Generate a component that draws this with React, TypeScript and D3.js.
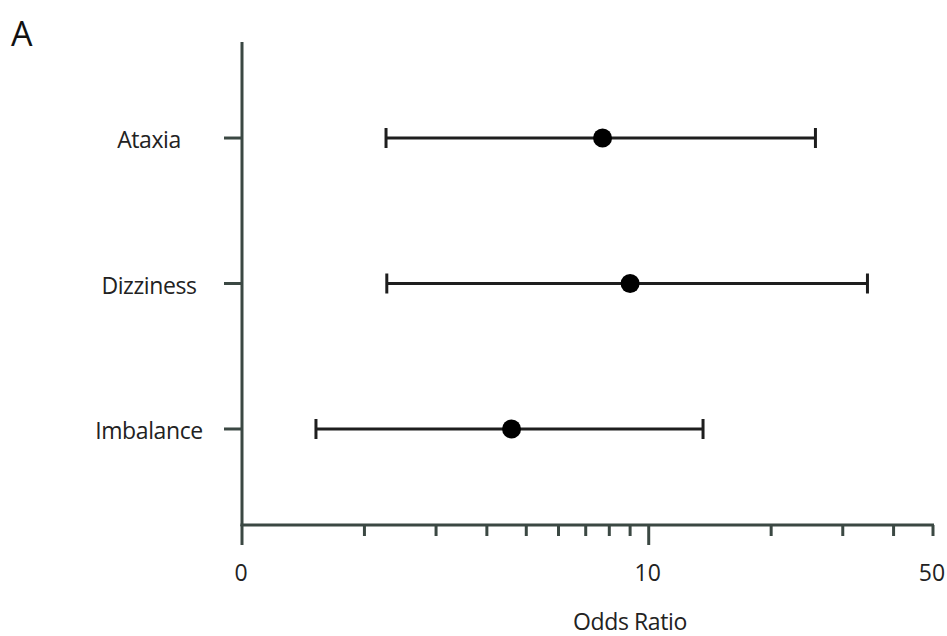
import { useEffect, useRef } from 'react';
import * as d3 from 'd3';

// odds ratios with 95% CI
const symptoms = ['Ataxia', 'Dizziness', 'Imbalance'];
const oddsRatio = [7.7, 9.0, 4.6];
const ciLow = [2.26, 2.27, 1.52];
const ciHigh = [25.7, 34.5, 13.6];

const tickValues = [1, 2, 3, 4, 5, 6, 7, 8, 9, 10, 20, 30, 40, 50];
const majorTicks = [1, 10];
const tickLabels = [
  { value: 1, label: '0' },
  { value: 10, label: '10' },
  { value: 50, label: '50' },
];

const W = 947;
const H = 636;
const FONT = '"Open Sans", "Noto Sans", sans-serif';
const AXIS = '#3b4843';
const INK = '#1e1e1e';
const TEXT = '#222';

export default function App() {
  const svgRef = useRef<SVGSVGElement | null>(null);

  useEffect(() => {
    document.body.style.margin = '0';
    if (!svgRef.current) return;
    const svg = d3.select(svgRef.current);
    svg.selectAll('*').remove();

    const left = 242;
    const right = 933;
    const top = 42;
    const bottom = 525;

    const x = d3.scaleLog().domain([1, 50]).range([left, right]);
    const y = d3.scalePoint<string>().domain(symptoms).range([top, bottom]).padding(0.66);

    const rows = symptoms.map((s, i) => ({ s, or: oddsRatio[i], lo: ciLow[i], hi: ciHigh[i] }));

    // panel letter
    svg.append('text')
      .attr('x', 11).attr('y', 46)
      .attr('font-family', FONT).attr('font-size', 34)
      .attr('fill', '#111')
      .text('A');

    // y axis
    svg.append('line')
      .attr('x1', left).attr('x2', left)
      .attr('y1', top).attr('y2', bottom + 1)
      .attr('stroke', AXIS).attr('stroke-width', 3);

    svg.selectAll('.ytick')
      .data(symptoms)
      .join('line')
      .attr('x1', left - 18).attr('x2', left)
      .attr('y1', d => y(d)!).attr('y2', d => y(d)!)
      .attr('stroke', AXIS).attr('stroke-width', 3);

    svg.selectAll('.ylab')
      .data(symptoms)
      .join('text')
      .attr('x', 149)
      .attr('y', d => y(d)! + 1)
      .attr('text-anchor', 'middle')
      .attr('dominant-baseline', 'central')
      .attr('font-family', FONT).attr('font-size', 23)
      .attr('letter-spacing', -0.4)
      .attr('fill', TEXT)
      .text(d => d);

    // x axis
    svg.append('line')
      .attr('x1', left - 1.5).attr('x2', right + 1)
      .attr('y1', bottom).attr('y2', bottom)
      .attr('stroke', AXIS).attr('stroke-width', 3);

    svg.selectAll('.xtick')
      .data(tickValues)
      .join('line')
      .attr('x1', d => x(d)).attr('x2', d => x(d))
      .attr('y1', bottom)
      .attr('y2', d => majorTicks.includes(d) ? bottom + 20 : bottom + 11)
      .attr('stroke', AXIS).attr('stroke-width', 3);

    svg.selectAll('.xlab')
      .data(tickLabels)
      .join('text')
      .attr('x', d => x(d.value) - 1)
      .attr('y', 581)
      .attr('text-anchor', 'middle')
      .attr('font-family', FONT).attr('font-size', 23)
      .attr('fill', TEXT)
      .text(d => d.label);

    svg.append('text')
      .attr('x', 630).attr('y', 630)
      .attr('text-anchor', 'middle')
      .attr('font-family', FONT).attr('font-size', 23)
      .attr('letter-spacing', -0.4)
      .attr('fill', TEXT)
      .text('Odds Ratio');

    // error bars
    const g = svg.selectAll('.row').data(rows).join('g');
    g.append('line')
      .attr('x1', d => x(d.lo)).attr('x2', d => x(d.hi))
      .attr('y1', d => y(d.s)!).attr('y2', d => y(d.s)!)
      .attr('stroke', INK).attr('stroke-width', 3);
    g.append('line')
      .attr('x1', d => x(d.lo)).attr('x2', d => x(d.lo))
      .attr('y1', d => y(d.s)! - 10).attr('y2', d => y(d.s)! + 10)
      .attr('stroke', INK).attr('stroke-width', 3);
    g.append('line')
      .attr('x1', d => x(d.hi)).attr('x2', d => x(d.hi))
      .attr('y1', d => y(d.s)! - 10).attr('y2', d => y(d.s)! + 10)
      .attr('stroke', INK).attr('stroke-width', 3);
    g.append('circle')
      .attr('cx', d => x(d.or))
      .attr('cy', d => y(d.s)!)
      .attr('r', 9.5)
      .attr('fill', '#000');
  }, []);

  return <svg ref={svgRef} width={W} height={H} style={{ display: 'block', background: '#fff' }} />;
}
